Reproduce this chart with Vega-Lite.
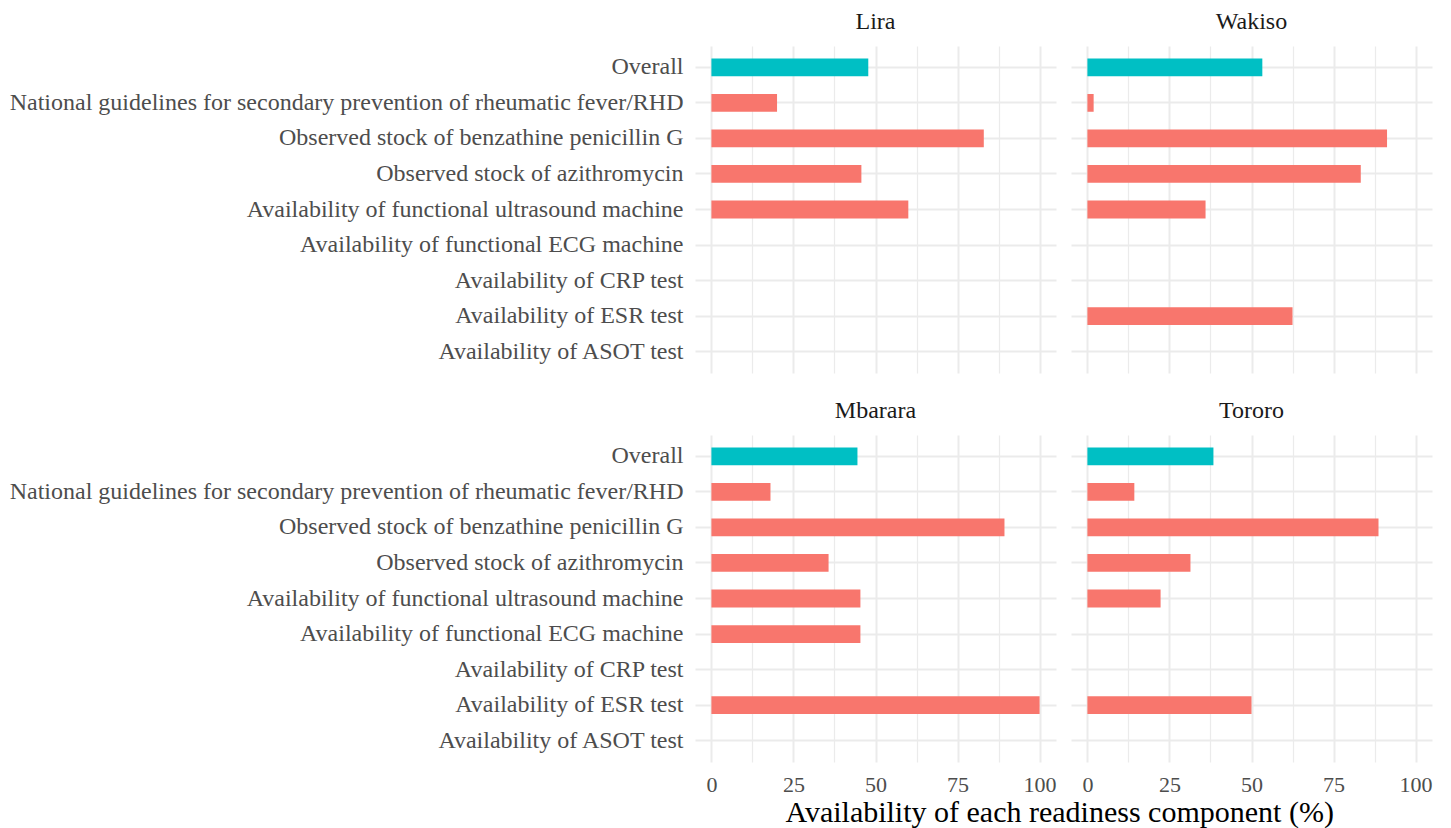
{
  "$schema": "https://vega.github.io/schema/vega-lite/v6.json",
  "background": "white",
  "padding": {"left": 9, "top": 10, "right": 30, "bottom": 0},
  "title": {"text": "Availability of each readiness component (%)", "orient": "bottom", "anchor": "middle", "font": "Liberation Serif", "fontSize": 30, "fontWeight": "normal", "color": "#000000", "offset": 3, "dx": 339},
  "data": {"values": [
    {"district": "Lira", "component": "Overall", "type": "Overall", "value": 47.8},
    {"district": "Lira", "component": "National guidelines for secondary prevention of rheumatic fever/RHD", "type": "Component", "value": 20},
    {"district": "Lira", "component": "Observed stock of benzathine penicillin G", "type": "Component", "value": 83},
    {"district": "Lira", "component": "Observed stock of azithromycin", "type": "Component", "value": 45.7},
    {"district": "Lira", "component": "Availability of functional ultrasound machine", "type": "Component", "value": 60},
    {"district": "Lira", "component": "Availability of functional ECG machine", "type": "Component", "value": 0},
    {"district": "Lira", "component": "Availability of CRP test", "type": "Component", "value": 0},
    {"district": "Lira", "component": "Availability of ESR test", "type": "Component", "value": 0},
    {"district": "Lira", "component": "Availability of ASOT test", "type": "Component", "value": 0},
    {"district": "Wakiso", "component": "Overall", "type": "Overall", "value": 53.3},
    {"district": "Wakiso", "component": "National guidelines for secondary prevention of rheumatic fever/RHD", "type": "Component", "value": 1.9},
    {"district": "Wakiso", "component": "Observed stock of benzathine penicillin G", "type": "Component", "value": 91.3},
    {"district": "Wakiso", "component": "Observed stock of azithromycin", "type": "Component", "value": 83.3},
    {"district": "Wakiso", "component": "Availability of functional ultrasound machine", "type": "Component", "value": 36},
    {"district": "Wakiso", "component": "Availability of functional ECG machine", "type": "Component", "value": 0},
    {"district": "Wakiso", "component": "Availability of CRP test", "type": "Component", "value": 0},
    {"district": "Wakiso", "component": "Availability of ESR test", "type": "Component", "value": 62.5},
    {"district": "Wakiso", "component": "Availability of ASOT test", "type": "Component", "value": 0},
    {"district": "Mbarara", "component": "Overall", "type": "Overall", "value": 44.5},
    {"district": "Mbarara", "component": "National guidelines for secondary prevention of rheumatic fever/RHD", "type": "Component", "value": 18},
    {"district": "Mbarara", "component": "Observed stock of benzathine penicillin G", "type": "Component", "value": 89.3},
    {"district": "Mbarara", "component": "Observed stock of azithromycin", "type": "Component", "value": 35.7},
    {"district": "Mbarara", "component": "Availability of functional ultrasound machine", "type": "Component", "value": 45.4},
    {"district": "Mbarara", "component": "Availability of functional ECG machine", "type": "Component", "value": 45.4},
    {"district": "Mbarara", "component": "Availability of CRP test", "type": "Component", "value": 0},
    {"district": "Mbarara", "component": "Availability of ESR test", "type": "Component", "value": 100},
    {"district": "Mbarara", "component": "Availability of ASOT test", "type": "Component", "value": 0},
    {"district": "Tororo", "component": "Overall", "type": "Overall", "value": 38.4},
    {"district": "Tororo", "component": "National guidelines for secondary prevention of rheumatic fever/RHD", "type": "Component", "value": 14.3},
    {"district": "Tororo", "component": "Observed stock of benzathine penicillin G", "type": "Component", "value": 88.7},
    {"district": "Tororo", "component": "Observed stock of azithromycin", "type": "Component", "value": 31.4},
    {"district": "Tororo", "component": "Availability of functional ultrasound machine", "type": "Component", "value": 22.3},
    {"district": "Tororo", "component": "Availability of functional ECG machine", "type": "Component", "value": 0},
    {"district": "Tororo", "component": "Availability of CRP test", "type": "Component", "value": 0},
    {"district": "Tororo", "component": "Availability of ESR test", "type": "Component", "value": 50},
    {"district": "Tororo", "component": "Availability of ASOT test", "type": "Component", "value": 0}
  ]},
  "facet": {
    "field": "district",
    "type": "nominal",
    "sort": ["Lira", "Wakiso", "Mbarara", "Tororo"],
    "title": null,
    "header": {"labelFont": "Liberation Serif", "labelFontSize": 24, "labelColor": "#1A1A1A", "labelPadding": 12}
  },
  "columns": 2,
  "spacing": {"column": 15, "row": 26},
  "spec": {
    "width": 361,
    "height": 327,
    "mark": {"type": "bar"},
    "encoding": {
      "y": {
        "field": "component",
        "type": "nominal",
        "sort": ["Overall", "National guidelines for secondary prevention of rheumatic fever/RHD", "Observed stock of benzathine penicillin G", "Observed stock of azithromycin", "Availability of functional ultrasound machine", "Availability of functional ECG machine", "Availability of CRP test", "Availability of ESR test", "Availability of ASOT test"],
        "scale": {"paddingInner": 0.5, "paddingOuter": 0.35},
        "axis": {"title": null, "domain": false, "ticks": false, "labelPadding": 12, "labelFont": "Liberation Serif", "labelFontSize": 24, "labelColor": "#4D4D4D", "grid": true, "gridColor": "#EBEBEB", "gridWidth": 2, "bandPosition": 0.5, "labelLimit": 1000}
      },
      "x": {
        "field": "value",
        "type": "quantitative",
        "scale": {"domain": [-5, 105], "nice": false, "zero": false},
        "axis": {"title": null, "values": [0, 12.5, 25, 37.5, 50, 62.5, 75, 87.5, 100], "labelExpr": "datum.value % 25 === 0 ? datum.label : ''", "domain": false, "ticks": false, "labelPadding": 12, "labelFont": "Liberation Serif", "labelFontSize": 22, "labelColor": "#4D4D4D", "grid": true, "gridColor": "#EBEBEB", "gridWidth": {"condition": {"test": "datum.value % 25 === 0", "value": 2}, "value": 1.2}}
      },
      "color": {"field": "type", "type": "nominal", "scale": {"domain": ["Overall", "Component"], "range": ["#00BFC4", "#F8766D"]}, "legend": null}
    }
  },
  "config": {"view": {"stroke": null}, "font": "Liberation Serif"}
}
